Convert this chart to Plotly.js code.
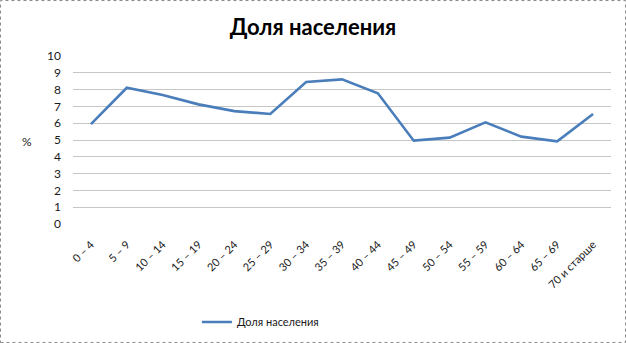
<!DOCTYPE html>
<html>
<head>
<meta charset="utf-8">
<script src="https://cdn.plot.ly/plotly-3.0.1.min.js"></script>
<style>html,body{margin:0;padding:0;background:#fff}#chart{width:626px;height:343px}</style>
</head>
<body>
<div id="chart"></div>
<script>
const categories = ["0 \u2013 4","5 \u2013 9","10 \u2013 14","15 \u2013 19","20 \u2013 24","25 \u2013 29","30 \u2013 34","35 \u2013 39","40 \u2013 44","45 \u2013 49","50 \u2013 54","55 \u2013 59","60 \u2013 64","65 \u2013 69","70 и старше"];
const values = [5.95, 8.11, 7.68, 7.12, 6.72, 6.55, 8.45, 8.61, 7.78, 4.96, 5.14, 6.05, 5.2, 4.92, 6.55];
const seriesName = "Доля населения";
const titleText = "Доля населения";
const yLabel = "%";

const trace = {
  x: categories, y: values, type: 'scatter', mode: 'lines', name: seriesName,
  line: {color: '#4a7ebb', width: 2.6}
};
const layout = {
  width: 626, height: 343,
  margin: {l: 73, r: 15, t: 56, b: 119},
  paper_bgcolor: '#fff', plot_bgcolor: '#fff',
  font: {family: 'Lato, "Open Sans", sans-serif', size: 12, color: '#1a1a1a'},
  title: {text: '<b>' + titleText + '</b>', x: 0.5, xanchor: 'center', y: 0.92, yanchor: 'middle', font: {size: 22, family: 'Lato, sans-serif', color: '#000'}},
  xaxis: {type: 'category', range: [-0.5, 14.5], tickangle: -45, showgrid: false, zeroline: false, showline: false, ticks: '', ticklabelstandoff: 11, tickfont: {size: 11}, automargin: false},
  yaxis: {range: [0, 10], dtick: 1, showgrid: true, gridcolor: '#c6c6c6', gridwidth: 1, zeroline: false, showline: false, ticks: '', ticklabelstandoff: 11, tickfont: {size: 12}, fixedrange: true, automargin: false},
  showlegend: true,
  legend: {orientation: 'h', xref: 'container', yref: 'container', x: 0.416, xanchor: 'center', y: 0.0612, yanchor: 'middle', font: {size: 11}},
  annotations: [{text: yLabel, xref: 'paper', yref: 'paper', x: -0.085, y: 0.49, showarrow: false, xanchor: 'center', yanchor: 'middle', font: {size: 12}}],
  shapes: [{type: 'rect', xref: 'paper', yref: 'paper', x0: -0.1348, x1: 1.027, y0: -0.705, y1: 1.330, line: {color: '#888', width: 1, dash: 'dot'}}]
};
Plotly.newPlot('chart', [trace], layout, {displayModeBar: false, staticPlot: true});
</script>
</body>
</html>
